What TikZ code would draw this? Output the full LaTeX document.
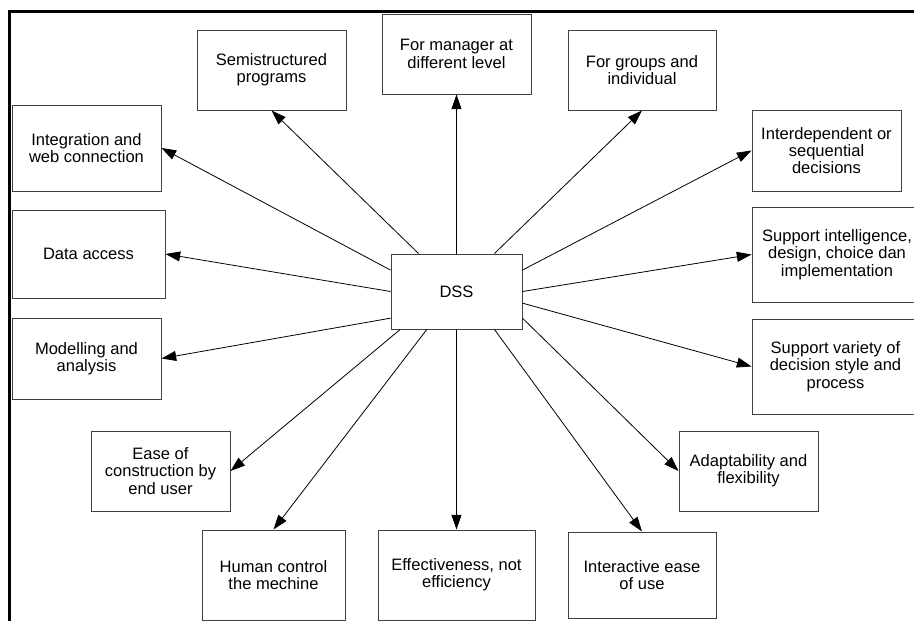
\documentclass[tikz,border=0pt]{standalone}
\usepackage{fontspec}
\setmainfont{Liberation Sans}
\usepackage{tikz}
\usetikzlibrary{arrows.meta}

\begin{document}
\begin{tikzpicture}[x=0.75pt, y=-0.75pt,
    box/.style={draw=black!75, line width=0.75pt, align=center, inner sep=0pt,
        minimum width=111.75pt, minimum height=60pt,
        font=\fontsize{12.4}{13}\selectfont},
    arr/.style={line width=0.6pt, -{Triangle[length=11pt, width=7.5pt]}}]
    \useasboundingbox (0,0) rectangle (914,621);
    \draw[line width=2.25pt] (9.5,621) -- (9.5,11.5) -- (914,11.5);

    \node[box, minimum width=98.25pt, minimum height=56.25pt] (dss) at (456.5,291.5) {DSS};

    \node[box] (semi) at (271.5,70) {Semistructured\\programs};
    \node[box] (mgr) at (456.5,54) {For manager at\\different level};
    \node[box, minimum width=111pt] (grp) at (642,70) {For groups and\\individual};
    \node[box, minimum height=60.75pt] (inter) at (826.5,150.5) {Interdependent or\\sequential\\decisions};
    \node[box, minimum width=127.5pt, minimum height=71.25pt] (intel) at (837,254.5) {Support intelligence,\\design, choice dan\\implementation};
    \node[box, minimum width=125.25pt, minimum height=71.25pt] (vary) at (835.5,366.5) {Support variety of\\decision style and\\process};
    \node[box, minimum width=104.25pt] (adapt) at (748.5,471) {Adaptability and\\flexibility};
    \node[box, minimum width=111pt, minimum height=64.5pt] (use) at (642,575) {Interactive ease\\of use};
    \node[box, minimum width=117.75pt, minimum height=67.5pt] (eff) at (456.5,575) {Effectiveness, not\\efficiency};
    \node[box, minimum width=107.25pt, minimum height=67.5pt] (human) at (273.5,575) {Human control\\the mechine};
    \node[box, minimum width=104.25pt] (ease) at (160.5,471) {Ease of\\construction by\\end user};
    \node[box, minimum height=60.75pt] (model) at (86.5,358.5) {Modelling and\\analysis};
    \node[box, minimum width=114.75pt, minimum height=66pt] (data) at (88.5,254) {Data access};
    \node[box, minimum height=64.5pt] (web) at (86.5,148) {Integration and\\web connection};

    \draw[arr] (dss.135) -- (semi.south);
    \draw[arr] (dss.north) -- (mgr.south);
    \draw[arr] (dss.45) -- (grp.south);
    \draw[arr] (dss.18) -- (inter.west);
    \draw[arr] (dss.east) -- (intel.west);
    \draw[arr] (dss.-10) -- (vary.west);
    \draw[arr] (dss.-22) -- (adapt.west);
    \draw[arr] (dss.-45) -- (use.north);
    \draw[arr] (dss.south) -- (eff.north);
    \draw[arr] (dss.-128) -- (human.north);
    \draw[arr] (dss.-146) -- (ease.east);
    \draw[arr] (dss.202) -- (model.east);
    \draw[arr] (dss.west) -- (data.east);
    \draw[arr] (dss.162) -- (web.east);
\end{tikzpicture}
\end{document}
